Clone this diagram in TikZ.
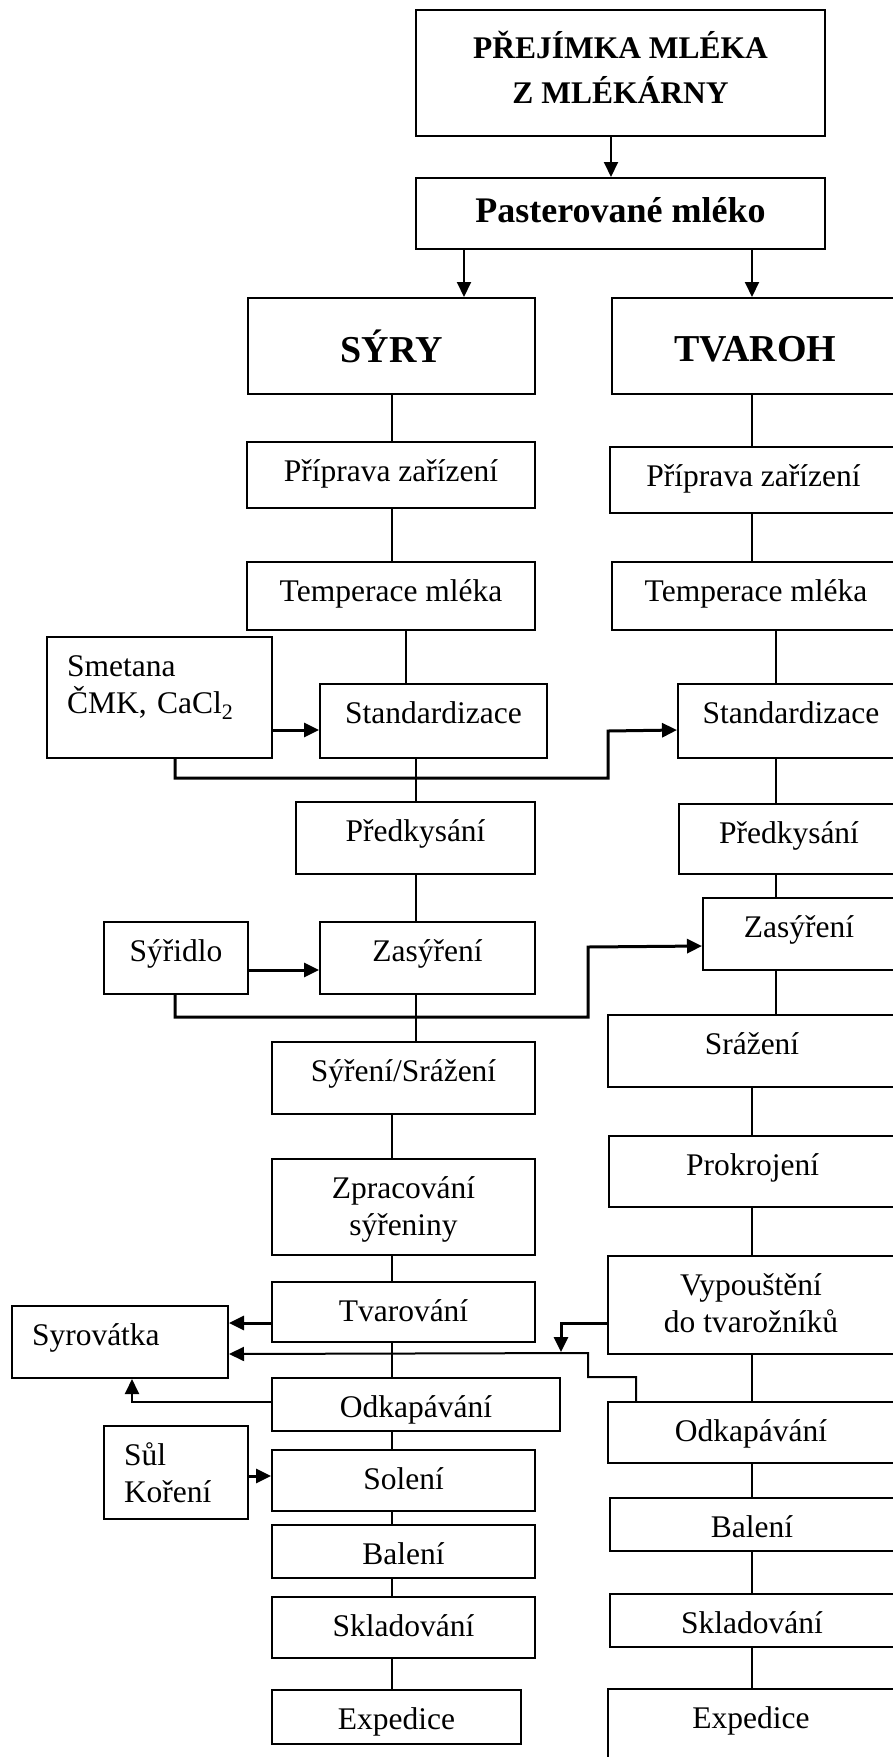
\documentclass[tikz,border=0pt]{standalone}
\usepackage{fontspec}
\setmainfont{Liberation Serif}
\usetikzlibrary{arrows.meta}
\usetikzlibrary{positioning}

\tikzset{
	krok/.style={draw, line width=2pt, inner sep=0pt, align=center, text height=39pt, font=\fontsize{31.5}{37}\selectfont},
	vlevo/.style={align=left, inner xsep=20pt, text width=#1},
	spoj/.style={line width=1.4pt},
	sipka/.style={line width=2pt, -{Triangle[length=15pt, width=14pt]}},
	tlusta/.style={line width=3pt, -{Triangle[length=15pt, width=14pt]}},
	stredni/.style={line width=2pt, -{Triangle[length=15pt, width=14pt]}}
}

\begin{document}
\begin{tikzpicture}[x=1pt, y=-1pt]
	\useasboundingbox (0,0) rectangle (893,1757);
	\clip (0,0) rectangle (893,1757);

	\coordinate (kT) at (611,0);
	\coordinate (kP) at (464,0);
	\coordinate (kL) at (392,0);
	\coordinate (kM) at (406,0);
	\coordinate (kN) at (416,0);
	\coordinate (kR) at (752,0);
	\coordinate (kS) at (776,0);
	\coordinate (kX) at (175,0);

	\node[krok, minimum width=409pt, text height=93pt, text depth=33pt, font=\fontsize{31.5}{45}\selectfont\bfseries] (prejimka) at (620.5,73) {PŘEJÍMKA MLÉKA\\Z MLÉKÁRNY};
	\node[krok, minimum width=409pt, text height=44pt, text depth=27pt, font=\fontsize{36}{40}\selectfont\bfseries] (past) at (620.5,213.5) {Pasterované mléko};
	\node[krok, minimum width=287pt, text height=64pt, text depth=32pt, font=\fontsize{38}{42}\selectfont\bfseries] (syry) at (391.5,346) {SÝRY};
	\node[krok, minimum width=287pt, text height=63pt, text depth=33pt, font=\fontsize{38}{42}\selectfont\bfseries] (tvaroh) at (755.5,346) {TVAROH};

	\node[krok, minimum width=288pt, text depth=27pt] (pripL) at (391,475) {Příprava zařízení};
	\node[krok, minimum width=288pt, text depth=29pt] (tempL) at (391,596) {Temperace mléka};
	\node[krok, vlevo=185pt, text depth=82pt] (smetana) at (159.5,697.5) {Smetana\\ČMK, CaCl\textsubscript{2}};
	\node[krok, minimum width=227pt, text depth=35pt] (stdL) at (433.5,721) {Standardizace};
	\node[krok, minimum width=239pt, text depth=33pt] (predL) at (415.5,838) {Předkysání};
	\node[krok, minimum width=144pt, text depth=33pt] (syridlo) at (176,958) {Sýřidlo};
	\node[krok, minimum width=215pt, text depth=33pt] (zasL) at (427.5,958) {Zasýření};
	\node[krok, minimum width=263pt, text depth=33pt] (syreni) at (403.5,1078) {Sýření/Srážení};
	\node[krok, minimum width=263pt, text height=76pt, text depth=20pt] (zprac) at (403.5,1207) {Zpracování\\sýřeniny};
	\node[krok, minimum width=263pt, text depth=21pt] (tvarL) at (403.5,1312) {Tvarování};
	\node[krok, vlevo=176pt, text depth=33pt] (syrovatka) at (120,1342) {Syrovátka};
	\node[krok, minimum width=288pt, text depth=14pt] (odkL) at (416,1404.5) {Odkapávání};
	\node[krok, vlevo=104pt, text depth=54pt] (sul) at (176,1472.5) {Sůl\\Koření};
	\node[krok, minimum width=263pt, text depth=22pt] (soleni) at (403.5,1480.5) {Solení};
	\node[krok, minimum width=263pt, text depth=14pt] (balL) at (403.5,1551.5) {Balení};
	\node[krok, minimum width=263pt, text depth=22pt] (sklL) at (403.5,1627.5) {Skladování};
	\node[krok, minimum width=249pt, text depth=15pt] (expL) at (396.5,1717) {Expedice};

	\node[krok, minimum width=287pt, text depth=27pt] (pripR) at (753.5,480) {Příprava zařízení};
	\node[krok, minimum width=288pt, text depth=29pt] (tempR) at (756,596) {Temperace mléka};
	\node[krok, minimum width=226pt, text depth=35pt] (stdR) at (791,721) {Standardizace};
	\node[krok, minimum width=220pt, text depth=31pt] (predR) at (789,839) {Předkysání};
	\node[krok, minimum width=192pt, text depth=33pt] (zasR) at (799,934) {Zasýření};
	\node[krok, minimum width=288pt, text depth=33pt] (srazeni) at (752,1051) {Srážení};
	\node[krok, minimum width=287pt, text depth=32pt] (prokroj) at (752.5,1171.5) {Prokrojení};
	\node[krok, minimum width=286pt, text height=76pt, text depth=22pt] (vyp) at (751,1305) {Vypouštění\\do tvarožníků};
	\node[krok, minimum width=286pt, text depth=22pt] (odkR) at (751,1432.5) {Odkapávání};
	\node[krok, minimum width=284pt, text depth=14pt] (balR) at (752,1524.5) {Balení};
	\node[krok, minimum width=284pt, text depth=14pt] (sklR) at (752,1620.5) {Skladování};
	\node[krok, minimum width=286pt, text depth=34pt] (expR) at (751,1725.5) {Expedice};

	\draw[sipka] (prejimka.south -| kT) -- (past.north -| kT);
	\draw[sipka] (past.south -| kP) -- (syry.north -| kP);
	\draw[sipka] (past.south -| kR) -- (tvaroh.north -| kR);

	\draw[spoj] (syry.south -| kL) -- (pripL.north -| kL);
	\draw[spoj] (pripL.south -| kL) -- (tempL.north -| kL);
	\draw[spoj] (tempL.south -| kM) -- (stdL.north -| kM);
	\draw[spoj] (stdL.south -| kN) -- (predL.north -| kN);
	\draw[spoj] (predL.south -| kN) -- (zasL.north -| kN);
	\draw[spoj] (zasL.south -| kN) -- (syreni.north -| kN);
	\draw[spoj] (syreni.south -| kL) -- (zprac.north -| kL);
	\draw[spoj] (zprac.south -| kL) -- (tvarL.north -| kL);
	\draw[spoj] (tvarL.south -| kL) -- (odkL.north -| kL);
	\draw[spoj] (odkL.south -| kL) -- (soleni.north -| kL);
	\draw[spoj] (soleni.south -| kL) -- (balL.north -| kL);
	\draw[spoj] (balL.south -| kL) -- (sklL.north -| kL);
	\draw[spoj] (sklL.south -| kL) -- (expL.north -| kL);

	\draw[spoj] (tvaroh.south -| kR) -- (pripR.north -| kR);
	\draw[spoj] (pripR.south -| kR) -- (tempR.north -| kR);
	\draw[spoj] (tempR.south -| kS) -- (stdR.north -| kS);
	\draw[spoj] (stdR.south -| kS) -- (predR.north -| kS);
	\draw[spoj] (predR.south -| kS) -- (zasR.north -| kS);
	\draw[spoj] (zasR.south -| kS) -- (srazeni.north -| kS);
	\draw[spoj] (srazeni.south -| kR) -- (prokroj.north -| kR);
	\draw[spoj] (prokroj.south -| kR) -- (vyp.north -| kR);
	\draw[spoj] (vyp.south -| kR) -- (odkR.north -| kR);
	\draw[spoj] (odkR.south -| kR) -- (balR.north -| kR);
	\draw[spoj] (balR.south -| kR) -- (sklR.north -| kR);
	\draw[spoj] (sklR.south -| kR) -- (expR.north -| kR);

	\draw[tlusta] (smetana.east |- 0,730) -- (stdL.west |- 0,730);
	\draw[tlusta] (smetana.south -| kX) -- ++(0,19) -- ++(433,0) -- ++(0,-47) -- (stdR.west |- 0,730);
	\draw[tlusta] (syridlo.east |- 0,970) -- (zasL.west |- 0,970);
	\draw[tlusta] (syridlo.south -| kX) -- ++(0,22) -- ++(413,0) -- ++(0,-70) -- (zasR.west |- 0,946);

	\draw[tlusta] (tvarL.west |- 0,1323) -- (syrovatka.east |- 0,1323);
	\draw[tlusta] (vyp.west |- 0,1323) -| (561,1352);
	\draw[stredni] (odkR.north -| 636,0) -- ++(0,-24) -- ++(-48,0) -- ++(0,-24) -- (syrovatka.east |- 0,1354);
	\draw[stredni] (odkL.west |- 0,1402) -| (syrovatka.south -| 132,0);
	\draw[tlusta] (sul.east |- 0,1476) -- (soleni.west |- 0,1476);
\end{tikzpicture}
\end{document}
